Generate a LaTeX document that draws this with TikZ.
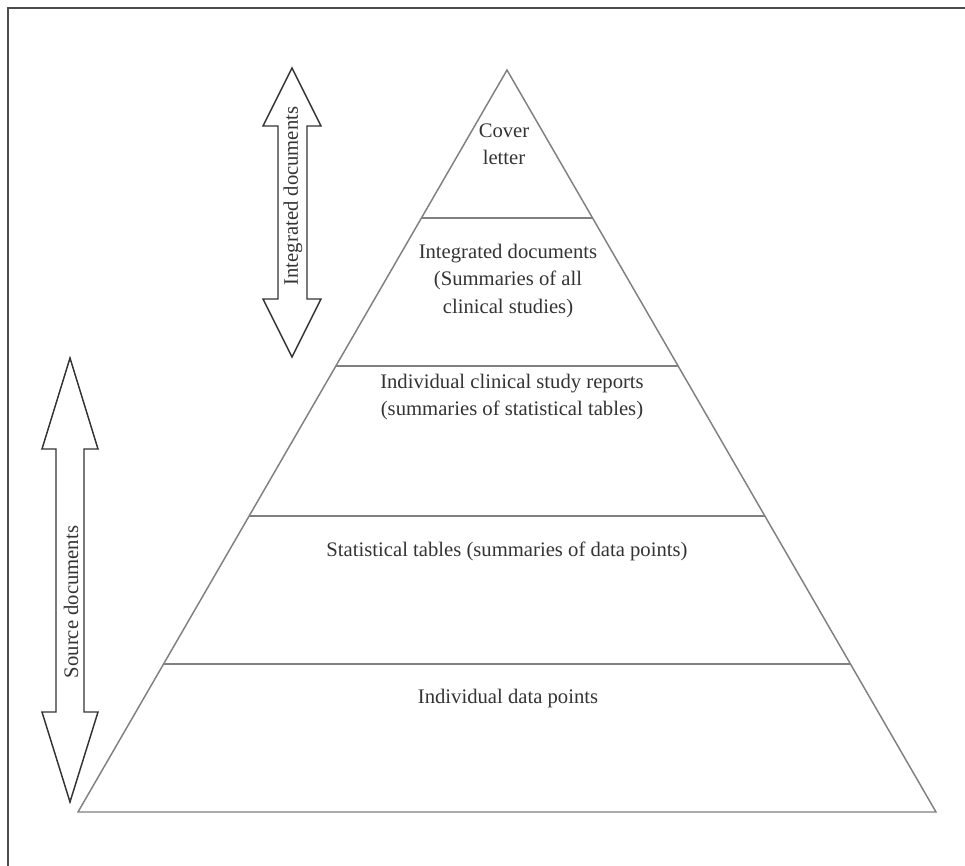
\documentclass[tikz,border=0pt]{standalone}
\usepackage{fontspec}
\setmainfont{Liberation Serif}
\begin{document}
\begin{tikzpicture}[x=0.75pt,y=-0.75pt,
  pyr/.style={draw=black!50,line width=1.1pt},
  dbl/.style={draw=black!80,line width=1.1pt,fill=white,line join=miter},
  lbl/.style={text=black!80,font=\fontsize{15.5}{20.3}\selectfont,align=center,inner sep=0pt},
  frame/.style={draw=black!70,line width=1.6pt}]
\useasboundingbox (0,0) rectangle (965,866);
% frame (top and left only visible)
\draw[frame] (8,866) -- (8,8) -- (965,8);
% pyramid
\coordinate (apex) at (507,70);
\coordinate (bl) at (78,812);
\coordinate (br) at (936,812);
\draw[pyr] (apex) -- (bl) -- (br) -- cycle;
\foreach \y/\n in {218/a,366/b,516/c,664/d}{
  \pgfmathsetmacro{\dx}{(\y-70)/742*429}
  \draw[pyr] ({507-\dx},\y) -- ({507+\dx},\y);
}
% labels
\node[lbl] (cover) at (504,144) {Cover\\letter};
\node[lbl] (integ) at (508,281) {Integrated documents\\(Summaries of all\\clinical studies)};
\node[lbl] (icsr) at (512,397) {Individual clinical study reports\\(summaries of statistical tables)};
\node[lbl] (stat) at (507,551) {Statistical tables (summaries of data points)};
\node[lbl] (idp) at (508,699) {Individual data points};
% integrated documents arrow
\draw[dbl] (292,68) -- (321,126) -- (307,126) -- (307,299) -- (321,299) -- (292,357)
  -- (263,299) -- (278,299) -- (278,126) -- (263,126) -- cycle;
\node[lbl,rotate=90] (intarrow) at (293,196) {Integrated documents};
% source documents arrow
\draw[dbl] (70,358) -- (98,449) -- (84,449) -- (84,712) -- (98,712) -- (70,802)
  -- (42,712) -- (56,712) -- (56,449) -- (42,449) -- cycle;
\node[lbl,rotate=90] (srcarrow) at (71,602) {Source documents};
\end{tikzpicture}
\end{document}
